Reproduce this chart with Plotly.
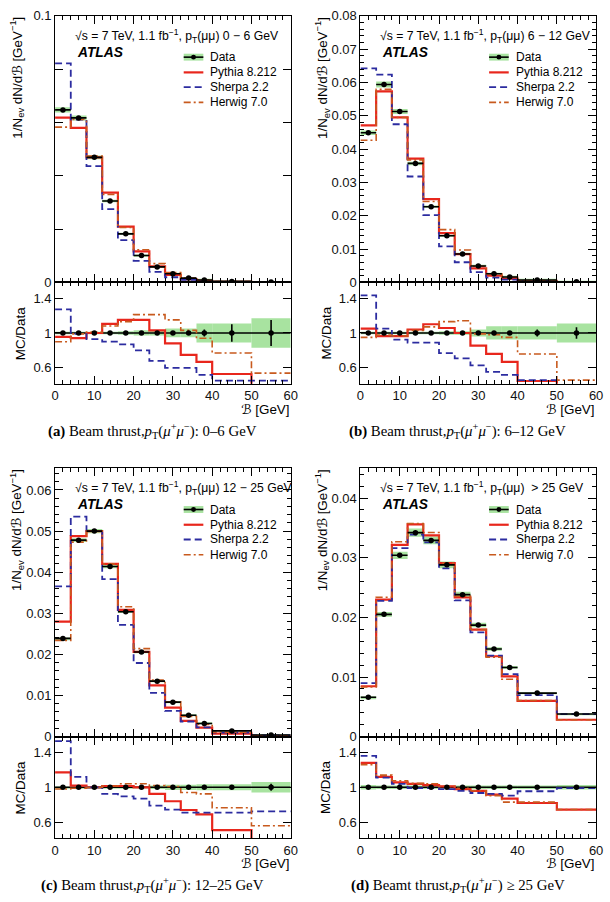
import plotly.graph_objects as go

# ---------------- data ----------------
edges = [0, 4, 8, 12, 16, 20, 24, 28, 32, 36, 40, 50, 60]
centers = [2, 6, 10, 14, 18, 22, 26, 30, 34, 38, 45, 55]
half_widths = [2, 2, 2, 2, 2, 2, 2, 2, 2, 2, 5, 5]

# (a) pT 0-6 GeV
data_a = [0.0647, 0.0617, 0.0469, 0.0305, 0.0182, 0.0101, 0.0058, 0.0032, 0.0016, 0.0009, 0.00035, 0.0001]
pythia_ratio_a = [0.955, 0.94, 1.0, 1.105, 1.15, 1.15, 1.03, 0.88, 0.75, 0.67, 0.53, 0.30]
sherpa_ratio_a = [1.27, 0.99, 0.93, 0.90, 0.87, 0.80, 0.68, 0.60, 0.60, 0.52, 0.455, 0.455]
herwig_ratio_a = [0.90, 0.99, 1.01, 1.08, 1.13, 1.21, 1.21, 1.15, 1.03, 0.94, 0.77, 0.54]
syst_a = [0.015, 0.015, 0.015, 0.015, 0.02, 0.03, 0.03, 0.05, 0.05, 0.11, 0.11, 0.17]
stat_a = [0.004, 0.004, 0.005, 0.006, 0.008, 0.01, 0.012, 0.015, 0.02, 0.04, 0.10, 0.15]

# (b) pT 6-12 GeV
data_b = [0.0449, 0.0594, 0.0513, 0.0357, 0.0227, 0.0140, 0.0085, 0.0049, 0.0026, 0.0016, 0.0007, 0.0002]
pythia_ratio_b = [1.05, 0.965, 0.965, 1.04, 1.10, 1.057, 1.0, 0.855, 0.76, 0.67, 0.45, 0.30]
sherpa_ratio_b = [1.43, 1.05, 0.925, 0.89, 0.89, 0.77, 0.71, 0.63, 0.555, 0.52, 0.46, 0.35]
herwig_ratio_b = [0.95, 0.975, 0.965, 1.03, 1.07, 1.13, 1.14, 0.99, 0.98, 0.95, 0.76, 0.46]
syst_b = [0.015, 0.015, 0.015, 0.015, 0.015, 0.02, 0.02, 0.04, 0.076, 0.076, 0.076, 0.11]
stat_b = [0.004, 0.004, 0.004, 0.005, 0.006, 0.008, 0.01, 0.012, 0.015, 0.02, 0.04, 0.065]

# (c) pT 12-25 GeV
data_c = [0.0239, 0.0478, 0.0500, 0.0414, 0.0304, 0.0206, 0.0135, 0.0084, 0.0052, 0.0032, 0.0014, 0.0004]
pythia_ratio_c = [1.17, 1.02, 1.0, 1.015, 1.015, 1.0, 0.925, 0.84, 0.74, 0.69, 0.51, 0.35]
sherpa_ratio_c = [1.53, 1.12, 1.0, 0.925, 0.895, 0.87, 0.79, 0.745, 0.71, 0.71, 0.71, 0.725]
herwig_ratio_c = [0.98, 0.99, 1.0, 1.015, 1.04, 1.04, 1.02, 1.01, 0.94, 0.925, 0.765, 0.56]
syst_c = [0.01, 0.01, 0.01, 0.01, 0.01, 0.015, 0.02, 0.03, 0.03, 0.035, 0.035, 0.06]
stat_c = [0.004, 0.003, 0.003, 0.003, 0.004, 0.005, 0.006, 0.008, 0.01, 0.012, 0.02, 0.04]

# (d) pT > 25 GeV
data_d = [0.0066, 0.0205, 0.0304, 0.0342, 0.0329, 0.0288, 0.0238, 0.0187, 0.0147, 0.0116, 0.0073, 0.0038]
pythia_ratio_d = [1.28, 1.12, 1.057, 1.04, 1.026, 1.01, 0.98, 0.96, 0.917, 0.87, 0.82, 0.745]
sherpa_ratio_d = [1.36, 1.11, 1.04, 0.99, 0.99, 0.98, 0.96, 0.935, 0.925, 0.905, 0.955, 0.99]
herwig_ratio_d = [1.26, 1.14, 1.075, 1.045, 1.04, 1.01, 0.99, 0.96, 0.905, 0.83, 0.83, 0.745]
syst_d = [0.025, 0.02, 0.02, 0.02, 0.02, 0.02, 0.02, 0.02, 0.02, 0.02, 0.02, 0.025]
stat_d = [0.008, 0.005, 0.004, 0.004, 0.004, 0.004, 0.005, 0.005, 0.006, 0.007, 0.008, 0.012]

main_ranges = [[0, 0.1], [0, 0.08], [0, 0.0653], [0, 0.045]]
ratio_range = [0.42, 1.58]

top_texts = [
    "√s = 7 TeV, 1.1 fb<sup>−1</sup>, p<sub>T</sub>(μμ) 0 − 6 GeV",
    "√s = 7 TeV, 1.1 fb<sup>−1</sup>, p<sub>T</sub>(μμ) 6 − 12 GeV",
    "√s = 7 TeV, 1.1 fb<sup>−1</sup>, p<sub>T</sub>(μμ) 12 − 25 GeV",
    "√s = 7 TeV, 1.1 fb<sup>−1</sup>, p<sub>T</sub>(μμ)  &gt; 25 GeV",
]
captions = [
    "<b>(a)</b> Beam thrust,<i>p</i><sub>T</sub>(<i>μ</i><sup>+</sup><i>μ</i><sup>−</sup>): 0–6 GeV",
    "<b>(b)</b> Beam thrust,<i>p</i><sub>T</sub>(<i>μ</i><sup>+</sup><i>μ</i><sup>−</sup>): 6–12 GeV",
    "<b>(c)</b> Beam thrust,<i>p</i><sub>T</sub>(<i>μ</i><sup>+</sup><i>μ</i><sup>−</sup>): 12–25 GeV",
    "<b>(d)</b> Beamt thrust,<i>p</i><sub>T</sub>(<i>μ</i><sup>+</sup><i>μ</i><sup>−</sup>) ≥ 25 GeV",
]
legend_labels = ["Data", "Pythia 8.212", "Sherpa 2.2", "Herwig 7.0"]

# ---------------- styling ----------------
W, H = 610, 902
RED = "#e8261c"
BLUE = "#2c2ca0"
ORANGE = "#c85a1e"
GREEN = "#a8e3a0"
SANS = "Liberation Sans, Arial, DejaVu Sans"
SERIF = "Liberation Serif, Times New Roman, DejaVu Serif"

def fx(px):
    return px / W

def fy(py):
    return 1 - py / H

geo = [
    dict(x0=52, x1=292, ytop=9, ymid=280, ybot=383, capx=151),
    dict(x0=363, x1=603, ytop=9, ymid=280, ybot=383, capx=462),
    dict(x0=52, x1=292, ytop=469, ymid=742, ybot=845, capx=151),
    dict(x0=363, x1=603, ytop=469, ymid=742, ybot=845, capx=462),
]

sets = [
    (data_a, pythia_ratio_a, sherpa_ratio_a, herwig_ratio_a, syst_a, stat_a),
    (data_b, pythia_ratio_b, sherpa_ratio_b, herwig_ratio_b, syst_b, stat_b),
    (data_c, pythia_ratio_c, sherpa_ratio_c, herwig_ratio_c, syst_c, stat_c),
    (data_d, pythia_ratio_d, sherpa_ratio_d, herwig_ratio_d, syst_d, stat_d),
]

mc_styles = [
    dict(color=RED, width=2.2, dash="solid"),
    dict(color=BLUE, width=1.8, dash="7px,4px"),
    dict(color=ORANGE, width=1.6, dash="7px,3px,2px,3px"),
]

fig = go.Figure()
layout = dict(
    width=W, height=H, margin=dict(l=0, r=0, t=0, b=0),
    paper_bgcolor="white", plot_bgcolor="white",
    showlegend=False, barmode="overlay",
    font=dict(family=SANS, size=13, color="black"),
)
annotations = []
shapes = []

def step(vals):
    return list(vals) + [vals[-1]]

for i, (g, s) in enumerate(zip(geo, sets)):
    data, pr, sr, hr, syst, stat = s
    mi, ri = 2 * i + 1, 2 * i + 2
    mx = "x" if mi == 1 else f"x{mi}"
    my = "y" if mi == 1 else f"y{mi}"
    rx, ry = f"x{ri}", f"y{ri}"
    ratios = [pr, sr, hr]

    # ----- main panel -----
    fig.add_trace(go.Bar(
        x=centers, y=[2 * e * d for e, d in zip(syst, data)],
        base=[d - e * d for e, d in zip(syst, data)],
        width=[2 * h for h in half_widths], marker=dict(color=GREEN, line=dict(width=0)),
        xaxis=mx, yaxis=my, hoverinfo="skip"))
    for rat, st in zip(ratios, mc_styles):
        vals = [r * d for r, d in zip(rat, data)]
        fig.add_trace(go.Scatter(
            x=edges, y=step(vals), mode="lines", line=dict(shape="hv", **st),
            xaxis=mx, yaxis=my))
    fig.add_trace(go.Scatter(
        x=centers, y=data, mode="markers",
        marker=dict(color="black", size=5.5),
        error_x=dict(type="data", array=half_widths, width=0, thickness=1.6, color="black"),
        error_y=dict(type="data", array=[e * d for e, d in zip(stat, data)], width=0, thickness=1.6, color="black"),
        xaxis=mx, yaxis=my))

    # ----- ratio panel -----
    fig.add_trace(go.Bar(
        x=centers, y=[2 * e for e in syst], base=[1 - e for e in syst],
        width=[2 * h for h in half_widths], marker=dict(color=GREEN, line=dict(width=0)),
        xaxis=rx, yaxis=ry, hoverinfo="skip"))
    fig.add_trace(go.Scatter(
        x=[0, 60], y=[1, 1], mode="lines", line=dict(color="black", width=1.6),
        xaxis=rx, yaxis=ry))
    for rat, st in zip(ratios, mc_styles):
        fig.add_trace(go.Scatter(
            x=edges, y=step(rat), mode="lines", line=dict(shape="hv", **st),
            xaxis=rx, yaxis=ry))
    fig.add_trace(go.Scatter(
        x=centers, y=[1] * len(centers), mode="markers",
        marker=dict(color="black", size=5.5),
        error_y=dict(type="data", array=stat, width=0, thickness=1.6, color="black"),
        xaxis=rx, yaxis=ry))

    common = dict(showline=True, linecolor="black", linewidth=1, mirror="allticks",
                  ticks="inside", tickcolor="black", showgrid=False, zeroline=False,
                  tickfont=dict(family=SANS, size=13, color="#111"))
    xdom = [fx(g["x0"]), fx(g["x1"])]
    layout["xaxis" if mi == 1 else f"xaxis{mi}"] = dict(
        domain=xdom, range=[0, 60], anchor=my, dtick=10, ticklen=8,
        minor=dict(dtick=2, ticklen=4, ticks="inside", tickcolor="black"),
        showticklabels=False, **common)
    ymain = dict(domain=[fy(g["ymid"]), fy(g["ytop"])], range=main_ranges[i], anchor=mx,
                 ticklen=8, **common)
    if i == 0:
        ymain.update(tickvals=[0, 0.02, 0.04, 0.06, 0.08, 0.1],
                     ticktext=["0", "", "", "", "", "0.1"])
    else:
        ymain.update(dtick=0.01, minor=dict(dtick=0.002, ticklen=4, ticks="inside", tickcolor="black"))
    layout["yaxis" if mi == 1 else f"yaxis{mi}"] = ymain
    layout[f"xaxis{ri}"] = dict(
        domain=xdom, range=[0, 60], anchor=ry, dtick=10, ticklen=8,
        minor=dict(dtick=2, ticklen=4, ticks="inside", tickcolor="black"),
        showticklabels=True, **common)
    layout[f"yaxis{ri}"] = dict(
        domain=[fy(g["ybot"]), fy(g["ymid"])], range=ratio_range, anchor=rx,
        tickvals=[0.6, 1, 1.4], ticktext=["0.6", "1", "1.4"], ticklen=8, **common)

    x0, ytop = g["x0"], g["ytop"]
    # top text & ATLAS
    annotations.append(dict(x=fx(x0 + 18), y=fy(ytop + 20), xref="paper", yref="paper",
                            text=top_texts[i], showarrow=False, xanchor="left", yanchor="middle",
                            font=dict(family=SANS, size=12.2, color="black")))
    annotations.append(dict(x=fx(x0 + 20), y=fy(ytop + 37), xref="paper", yref="paper",
                            text="<b><i>ATLAS</i></b>", showarrow=False, xanchor="left", yanchor="middle",
                            font=dict(family=SANS, size=13.8, color="black")))
    # legend
    rows = [ytop + 42, ytop + 57.5, ytop + 72.5, ytop + 88]
    lx0, lx1 = x0 + 131, x0 + 151
    shapes.append(dict(type="rect", xref="paper", yref="paper", x0=fx(lx0), x1=fx(lx1),
                       y0=fy(rows[0] - 3.5), y1=fy(rows[0] + 3.5), fillcolor=GREEN, line=dict(width=0)))
    shapes.append(dict(type="line", xref="paper", yref="paper", x0=fx(lx0), x1=fx(lx1),
                       y0=fy(rows[0]), y1=fy(rows[0]), line=dict(color="black", width=1.6)))
    shapes.append(dict(type="circle", xref="paper", yref="paper", x0=fx(x0 + 138.5), x1=fx(x0 + 143.5),
                       y0=fy(rows[0] - 2.5), y1=fy(rows[0] + 2.5), fillcolor="black", line=dict(width=0)))
    for r, st in zip(rows[1:], mc_styles):
        shapes.append(dict(type="line", xref="paper", yref="paper", x0=fx(lx0), x1=fx(lx1),
                           y0=fy(r), y1=fy(r), line=dict(color=st["color"], width=st["width"], dash=st["dash"])))
    for r, lab in zip(rows, legend_labels):
        annotations.append(dict(x=fx(x0 + 156), y=fy(r), xref="paper", yref="paper", text=lab,
                                showarrow=False, xanchor="left", yanchor="middle",
                                font=dict(family=SANS, size=12, color="black")))
    # axis titles
    annotations.append(dict(x=fx(x0 - 39), y=fy(ytop - 1), xref="paper", yref="paper",
                            text="1/N<sub>ev</sub> dN/d<i>ℬ</i> [GeV<sup>−1</sup>]", textangle=-90,
                            showarrow=False, xanchor="center", yanchor="top",
                            font=dict(family=SANS, size=13.4, color="black")))
    annotations.append(dict(x=fx(x0 - 35), y=fy(g["ymid"] + 52), xref="paper", yref="paper",
                            text="MC/Data", textangle=-90, showarrow=False, xanchor="center",
                            yanchor="middle", font=dict(family=SANS, size=13.4, color="black")))
    annotations.append(dict(x=fx(g["x1"] + 1), y=fy(g["ybot"] + 26), xref="paper", yref="paper",
                            text="<i>ℬ</i> [GeV]", showarrow=False, xanchor="right", yanchor="middle",
                            font=dict(family=SANS, size=13.4, color="black")))
    annotations.append(dict(x=fx(g["capx"]), y=fy(g["ybot"] + 48), xref="paper", yref="paper",
                            text=captions[i], showarrow=False, xanchor="center", yanchor="middle",
                            font=dict(family=SERIF, size=14.8, color="black")))

layout["annotations"] = annotations
layout["shapes"] = shapes
fig.update_layout(**layout)
fig.write_html("out.html", config={"displayModeBar": False},
               post_script="document.body.style.margin='0';document.body.style.overflow='hidden';")
